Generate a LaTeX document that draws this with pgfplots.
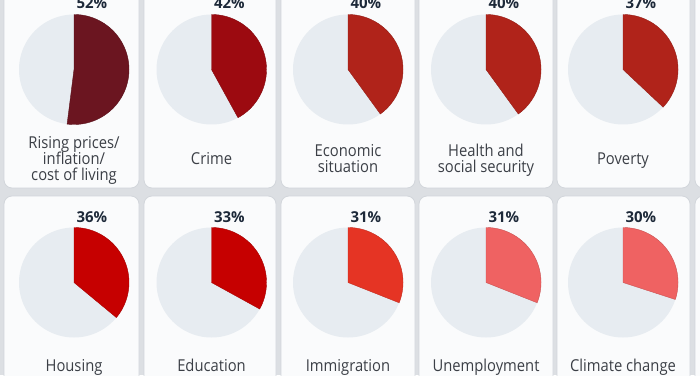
\documentclass[border=0pt]{standalone}
\usepackage{fontspec}
\setmainfont{Open Sans}[FakeStretch=0.9]
\newfontfamily\pctfont{Open Sans}
\usepackage{pgfplots}
\pgfplotsset{compat=1.18}
\definecolor{bg}{HTML}{DCDFE3}
\definecolor{card}{HTML}{FAFBFC}
\definecolor{cardline}{HTML}{D2D6DB}
\definecolor{piegrey}{HTML}{E7ECF1}
\definecolor{labcol}{HTML}{3B3F46}
\definecolor{pctcol}{HTML}{1D2939}
\definecolor{cA}{HTML}{6B1520}
\definecolor{cB}{HTML}{9C0A10}
\definecolor{cC}{HTML}{B0231A}
\definecolor{cD}{HTML}{C60000}
\definecolor{cE}{HTML}{E53424}
\definecolor{cF}{HTML}{EF6262}
\newcommand\lab{\fontsize{16.4}{16.4}\selectfont}
\newcommand\pct{\pctfont\bfseries\fontsize{15}{15}\selectfont}
% #1 cx, #2 cy, #3 value (percent), #4 colour
\newcommand\pie[4]{%
\addplot[draw=none, fill=piegrey, domain=0:360, samples=121, variable=\t] ({#1+55*sin(\t)},{#2+55*cos(\t)});
\addplot[draw=#4!85!black, line width=0.4pt, fill=#4, domain=0:3.6*#3, samples=80, variable=\t] ({#1+55*sin(\t)},{#2+55*cos(\t)}) -- (#1,#2) -- cycle;
}
\newcommand\card[4]{\fill[card, draw=cardline, line width=0.8pt, rounded corners=8pt] (#1,#3) rectangle (#2,#4);}
\begin{document}
\begin{tikzpicture}
\useasboundingbox (0,0) rectangle (700pt,375pt);
\clip (0,0) rectangle (700pt,375pt);
\fill[bg] (0,0) rectangle (700pt,375pt);
\begin{axis}[at={(0,0)}, anchor=origin, scale only axis, width=700pt, height=375pt,
  xmin=0, xmax=700, ymin=0, ymax=375, hide axis, clip=false]
% cards
\card{4}{139}{187}{400}
\card{144}{276}{187}{400}
\card{281}{415}{187}{400}
\card{419}{553}{187}{400}
\card{557}{690}{187}{400}
\card{695}{830}{187}{400}
\card{4}{139}{-20}{179}
\card{144}{276}{-20}{179}
\card{281}{415}{-20}{179}
\card{419}{553}{-20}{179}
\card{557}{690}{-20}{179}
\card{695}{830}{-20}{179}
% pies: row 1
\pie{74}{305.5}{52}{cA}
\pie{211.5}{305.5}{42}{cB}
\pie{348}{305.5}{40}{cC}
\pie{486}{305.5}{40}{cC}
\pie{623}{305.5}{37}{cC}
% pies: row 2
\pie{74}{92.5}{36}{cD}
\pie{211.5}{92.5}{33}{cD}
\pie{348}{92.5}{31}{cE}
\pie{486}{92.5}{31}{cF}
\pie{623}{92.5}{30}{cF}
% percent labels
\node[anchor=base west, font=\pct, text=pctcol] at (73,366.7) {52\%};
\node[anchor=base west, font=\pct, text=pctcol] at (210.5,366.7) {42\%};
\node[anchor=base west, font=\pct, text=pctcol] at (347,366.7) {40\%};
\node[anchor=base west, font=\pct, text=pctcol] at (485,366.7) {40\%};
\node[anchor=base west, font=\pct, text=pctcol] at (622,366.7) {37\%};
\node[anchor=base west, font=\pct, text=pctcol] at (73,152.3) {36\%};
\node[anchor=base west, font=\pct, text=pctcol] at (210.5,152.3) {33\%};
\node[anchor=base west, font=\pct, text=pctcol] at (347,152.3) {31\%};
\node[anchor=base west, font=\pct, text=pctcol] at (485,152.3) {31\%};
\node[anchor=base west, font=\pct, text=pctcol] at (622,152.3) {30\%};
% category labels row 1
\node[anchor=base, font=\lab, text=labcol] at (74,226.5) {Rising prices/};
\node[anchor=base, font=\lab, text=labcol] at (74,210.2) {inflation/};
\node[anchor=base, font=\lab, text=labcol] at (74,194) {cost of living};
\node[anchor=base, font=\lab, text=labcol] at (211.5,210) {Crime};
\node[anchor=base, font=\lab, text=labcol] at (348,218) {Economic};
\node[anchor=base, font=\lab, text=labcol] at (348,202) {situation};
\node[anchor=base, font=\lab, text=labcol] at (486,218) {Health and};
\node[anchor=base, font=\lab, text=labcol] at (486,202) {social security};
\node[anchor=base, font=\lab, text=labcol] at (623,210) {Poverty};
% category labels row 2
\node[anchor=base, font=\lab, text=labcol] at (74,3.3) {Housing};
\node[anchor=base, font=\lab, text=labcol] at (211.5,3.3) {Education};
\node[anchor=base, font=\lab, text=labcol] at (348,3.3) {Immigration};
\node[anchor=base, font=\lab, text=labcol] at (486,3.3) {Unemployment};
\node[anchor=base, font=\lab, text=labcol] at (623,3.3) {Climate change};
\end{axis}
\end{tikzpicture}
\end{document}
